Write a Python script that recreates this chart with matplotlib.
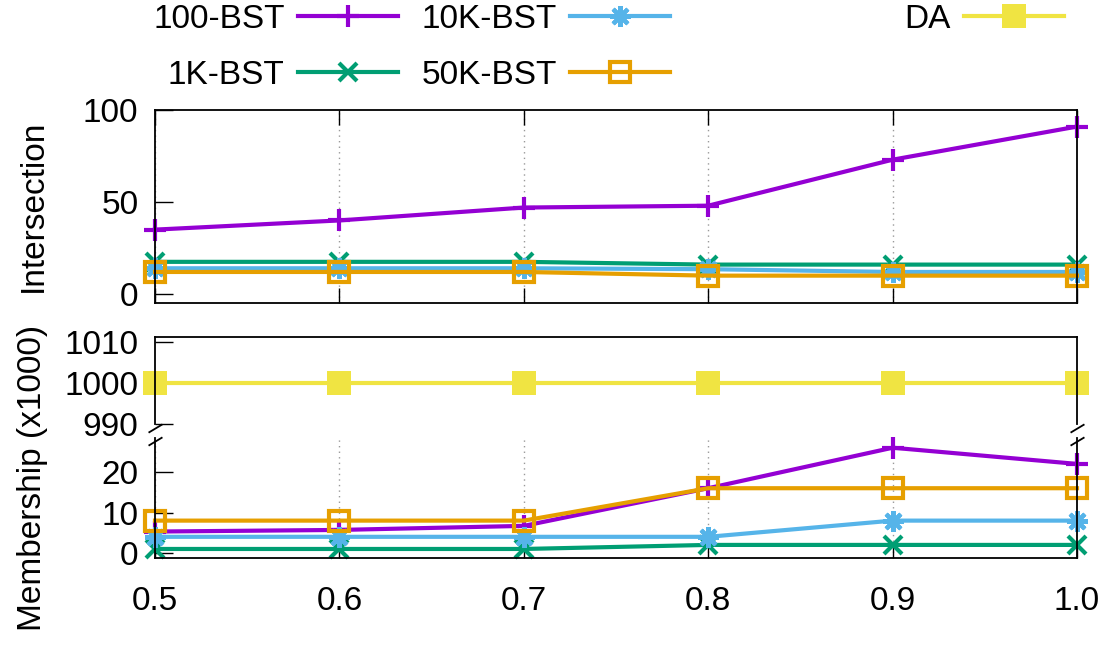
import numpy as np
import matplotlib
matplotlib.use('Agg')
import matplotlib.pyplot as plt

plt.rcParams['font.family'] = ['Liberation Sans', 'DejaVu Sans']
plt.rcParams['font.size'] = 24

x = [0.5, 0.6, 0.7, 0.8, 0.9, 1.0]
xlabels = ['0.5', '0.6', '0.7', '0.8', '0.9', '1.0']

# intersection (top panel)
inter_100 = [35, 40, 47, 48, 73, 91]
inter_1k = [17.5, 17.5, 17.5, 16, 16, 16]
inter_10k = [14, 14, 14, 13.5, 12, 12]
inter_50k = [12, 12, 12, 10, 10, 10]

# membership (x1000)
mem_100 = [5.3, 5.7, 6.7, 16, 26, 22]
mem_1k = [1, 1, 1, 2, 2, 2]
mem_10k = [4, 4, 4, 4, 8, 8]
mem_50k = [8, 8, 8, 16, 16, 16]
mem_da = [1000, 1000, 1000, 1000, 1000, 1000]

c_100, c_1k, c_10k, c_50k, c_da = '#9400d3', '#009e73', '#56b4e9', '#e69f00', '#f0e442'

styles = {
    '100-BST': dict(color=c_100, marker='+', ms=16, mew=3),
    '1K-BST': dict(color=c_1k, marker='x', ms=13, mew=3),
    '10K-BST': dict(color=c_10k, marker=(8, 2, 0), ms=15, mew=3),
    '50K-BST': dict(color=c_50k, marker='s', ms=15, mew=3, mfc='none'),
    'DA': dict(color=c_da, marker='s', ms=17, mew=0),
}
lw = 3

fig = plt.figure(figsize=(11.05, 6.49), dpi=100)
W, H = 1105, 649
def box(l, t, r, b):
    return [l / W, 1 - b / H, (r - l) / W, (b - t) / H]

ax1 = fig.add_axes(box(155, 110, 1077, 302.7))
ax2 = fig.add_axes(box(155, 337, 1077, 424.5))
ax3 = fig.add_axes(box(155, 438, 1077, 558))

for lab, ys in zip(['100-BST', '1K-BST', '10K-BST', '50K-BST'],
                   [inter_100, inter_1k, inter_10k, inter_50k]):
    ax1.plot(x, ys, lw=lw, clip_on=False, label=lab, **styles[lab])
for lab, ys in zip(['100-BST', '1K-BST', '10K-BST', '50K-BST'],
                   [mem_100, mem_1k, mem_10k, mem_50k]):
    ax3.plot(x, ys, lw=lw, clip_on=False, **styles[lab])
ax2.plot(x, mem_da, lw=lw, clip_on=False, label='DA', **styles['DA'])

for ax in (ax1, ax2, ax3):
    ax.set_xlim(0.5, 1.0)
    ax.set_xticks(x)
    ax.tick_params(direction='in', length=13, width=1, pad=12)
    for s in ax.spines.values():
        s.set_linewidth(1.3)

ax1.set_ylim(-4.7, 100)
ax1.set_yticks([0, 50, 100])
ax1.tick_params(axis='x', top=True, bottom=True, labelbottom=False, length=11)
ax1.grid(axis='x', color='#999999', ls=(0, (1, 3)), lw=1)

ax2.set_ylim(990, 1011.3)
ax2.set_yticks([990, 1000, 1010])
ax2.spines['bottom'].set_visible(False)
ax2.tick_params(axis='x', bottom=False, labelbottom=False)

ax3.set_ylim(-1.23, 28.4)
ax3.set_yticks([0, 10, 20])
ax3.spines['top'].set_visible(False)
ax3.set_xticklabels(xlabels)
ax3.tick_params(axis='x', length=11, pad=20)
ax3.grid(axis='x', color='#999999', ls=(0, (1, 3)), lw=1)

# break marks
slash = [(-1, -0.6), (1, 0.6)]
ax2.plot([0, 1], [-0.04, -0.04], transform=ax2.transAxes, ls='none', marker=slash,
         ms=10, mew=1.3, color='k', clip_on=False)
ax3.plot([0, 1], [0.975, 0.975], transform=ax3.transAxes, ls='none', marker=slash,
         ms=10, mew=1.3, color='k', clip_on=False)

fig.text(33 / W, 1 - 206 / H, 'Intersection', rotation=90, ha='center', va='center')
fig.text(33 / W, 1 - 478 / H, 'Membership (x1000)', rotation=90, ha='center', va='center')

h1, l1 = ax1.get_legend_handles_labels()
fig.legend(h1, l1, ncol=2, loc='upper right', bbox_to_anchor=(670 / W, 1 - 4 / H),
           frameon=False, markerfirst=False, handlelength=3.0, handletextpad=0.4,
           columnspacing=0.7, labelspacing=0.75, borderpad=0, borderaxespad=0)
h2, l2 = ax2.get_legend_handles_labels()
fig.legend(h2, l2, loc='upper right', bbox_to_anchor=(1064 / W, 1 - 4 / H),
           frameon=False, markerfirst=False, handlelength=3.0, handletextpad=0.4,
           borderpad=0, borderaxespad=0)

fig.savefig('out.png', dpi=100)
